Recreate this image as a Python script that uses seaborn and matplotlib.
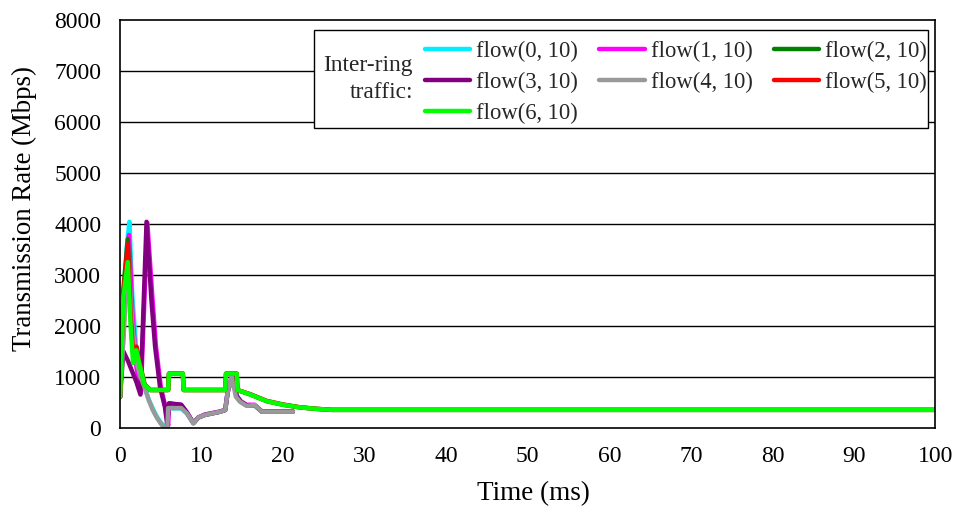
import matplotlib
matplotlib.use("Agg")
import matplotlib.pyplot as plt
import seaborn as sns
import pandas as pd
from matplotlib.patches import Rectangle

sns.set_theme(style="white")
plt.rcParams['font.family'] = ['Liberation Serif', 'DejaVu Serif']

flows = ["flow(0, 10)", "flow(1, 10)", "flow(2, 10)", "flow(3, 10)",
         "flow(4, 10)", "flow(5, 10)", "flow(6, 10)"]
colors = ["#00EEFF", "#FF00FF", "#007F00", "#800080", "#999999", "#FF0000", "#00FF00"]

# lower-path flows (0, 1, 3, 4)
t0 = [0, 0.4, 0.8, 1.15, 1.5, 2.0, 2.5, 3.0, 3.5, 4.0, 4.5, 5.0, 5.5, 5.8, 5.95, 7.5, 8.2, 9.0, 9.6,
      10.4, 12.3, 12.9, 13.2, 13.8, 14.3, 14.8, 15.5, 16.5, 17.4, 19.6, 21.2]
v0 = [600, 2000, 3500, 4040, 2600, 1500, 1050, 800, 560, 380, 220, 100, 20, 0, 380, 380, 280, 90, 200,
      250, 314, 347, 700, 1060, 640, 520, 440, 440, 314, 314, 314]

t1 = [0, 0.4, 0.8, 1.1, 1.5, 2.0, 2.55, 3.35, 3.95, 4.4, 5.0, 5.6, 5.9, 6.0, 7.5, 8.2, 9.0, 9.6,
      10.4, 12.3, 12.9, 13.2, 13.8, 14.3, 14.8, 15.5, 16.5, 17.4, 19.6, 21.2]
v1 = [600, 1800, 3300, 3780, 2300, 1200, 680, 4020, 2600, 1600, 800, 380, 40, 470, 450, 300, 90, 200,
      260, 320, 350, 700, 1040, 620, 520, 450, 450, 320, 320, 320]

t3 = [0, 0.4, 1.0, 2.0, 2.5, 3.25, 3.85, 4.3, 4.9, 5.5, 5.8, 6.0, 7.5, 8.2, 9.0, 9.6,
      10.4, 12.3, 12.9, 13.2, 13.8, 14.3, 14.8, 15.5, 16.5, 17.4, 19.6, 21.2]
v3 = [600, 1500, 1300, 900, 650, 4040, 2500, 1590, 800, 410, 50, 480, 450, 300, 90, 200,
      250, 314, 347, 700, 1040, 620, 510, 440, 440, 314, 314, 314]

t4 = [0, 0.4, 0.8, 1.1, 1.5, 2.0, 2.5, 3.0, 3.5, 4.0, 4.5, 5.0, 5.4, 5.8, 5.9, 7.5, 8.2, 9.0, 9.6,
      10.4, 12.3, 12.9, 13.2, 13.7, 14.2, 14.7, 15.5, 16.5, 17.4, 19.6, 21.2]
v4 = [600, 1700, 2800, 3100, 2000, 1300, 1000, 800, 550, 350, 200, 80, 0, 0, 385, 385, 280, 86, 200,
      250, 314, 347, 700, 1000, 608, 510, 430, 445, 314, 314, 314]

# upper-path flows (2, 5, 6)
tu = [0, 0.4, 0.95, 1.3, 1.6, 2.0, 2.3, 3.0, 3.7, 5.9, 6.0, 7.7, 7.8, 12.9, 13.0, 14.3, 14.4,
      16.0, 18.0, 20.0, 22.0, 24.0, 26.0, 100]
v2 = [600, 2700, 3700, 2300, 1500, 1590, 1350, 850, 740, 740, 1060, 1060, 740, 740, 1060, 1060, 740,
      650, 520, 450, 400, 370, 350, 350]
v5 = [600, 2600, 3600, 2200, 1450, 1590, 1330, 850, 740, 740, 1060, 1060, 740, 740, 1060, 1060, 740,
      655, 525, 455, 402, 372, 350, 350]
v6 = [600, 2550, 3250, 2000, 1270, 1520, 1300, 840, 740, 740, 1060, 1060, 740, 740, 1060, 1060, 740,
      650, 520, 450, 400, 370, 350, 350]

series = [(t0, v0), (t1, v1), (tu, v2), (t3, v3), (t4, v4), (tu, v5), (tu, v6)]
rows = []
for name, (tt, vv) in zip(flows, series):
    for a, b in zip(tt, vv):
        rows.append({"Time": a, "Rate": b, "flow": name})
df = pd.DataFrame(rows)

fig = plt.figure(figsize=(9.58, 5.11), dpi=100)
ax = fig.add_axes([0.1253, 0.163, 0.8512, 0.798])

for y in range(1000, 8000, 1000):
    ax.axhline(y, color="black", lw=1.0, zorder=0)

sns.lineplot(data=df, x="Time", y="Rate", hue="flow", hue_order=flows,
             palette=dict(zip(flows, colors)), estimator=None, sort=False,
             lw=3.2, ax=ax, legend=False)

ax.set_xlim(0, 100)
ax.set_ylim(0, 8000)
ax.set_xticks(range(0, 101, 10))
ax.set_yticks(range(0, 8001, 1000))
ax.tick_params(axis="x", direction="in", length=6, width=1, color="black",
               labelsize=17, pad=13, colors="black")
ax.tick_params(axis="y", length=0, labelsize=17, pad=13.5, colors="black")
for s in ax.spines.values():
    s.set_color("black")
    s.set_linewidth(1.2)
ax.set_xlabel("Time (ms)", fontsize=19.5, color="black")
ax.set_ylabel("Transmission Rate (Mbps)", fontsize=19.3, color="black")
ax.xaxis.set_label_coords(0.5065, -0.130)
ax.yaxis.set_label_coords(-0.1017, 0.5377)

# legend box
ax.add_patch(Rectangle((0.238, 0.735), 0.753, 0.2405, transform=ax.transAxes,
                       facecolor="white", edgecolor="black", lw=1.0, zorder=5))
ax.text(0.359, 0.855, "Inter-ring\ntraffic:", transform=ax.transAxes, ha="right",
        va="center", fontsize=16.8, linespacing=1.42, zorder=6)
handles = [plt.Line2D([], [], color=c, lw=3.2) for c in colors]
order = [0, 3, 6, 1, 4, 2, 5]
leg = ax.legend([handles[i] for i in order], [flows[i] for i in order],
                loc="upper left", bbox_to_anchor=(0.374, 0.9485),
                ncol=3, frameon=False, fontsize=16.3, handlelength=2.0,
                handletextpad=0.27, columnspacing=0.93, labelspacing=0.43,
                borderpad=0, borderaxespad=0)
leg.set_zorder(7)

fig.savefig("out.png", dpi=100)
